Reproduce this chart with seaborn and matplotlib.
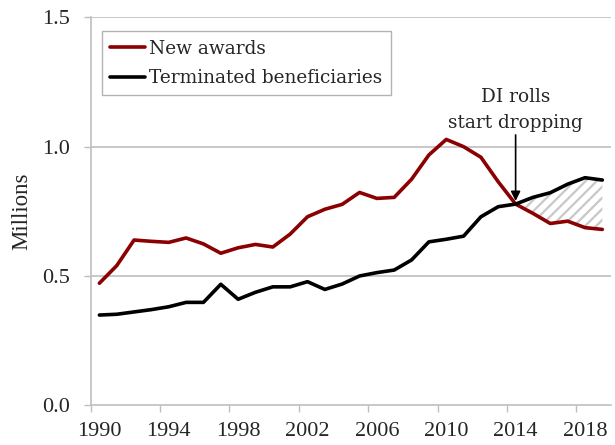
import numpy as np
import pandas as pd
import seaborn as sns
import matplotlib
matplotlib.use("Agg")
import matplotlib.pyplot as plt
from matplotlib.lines import Line2D

years = list(range(1990, 2020))
new_awards = [0.472, 0.540, 0.639, 0.634, 0.630, 0.647, 0.624, 0.588, 0.609, 0.622,
              0.612, 0.662, 0.729, 0.758, 0.777, 0.823, 0.800, 0.804, 0.874, 0.968,
              1.028, 1.000, 0.959, 0.864, 0.778, 0.742, 0.703, 0.712, 0.687, 0.680]
terminated = [0.349, 0.352, 0.361, 0.370, 0.381, 0.398, 0.398, 0.468, 0.410, 0.437,
              0.458, 0.458, 0.478, 0.448, 0.469, 0.500, 0.513, 0.523, 0.562, 0.632,
              0.642, 0.654, 0.729, 0.768, 0.778, 0.804, 0.822, 0.855, 0.880, 0.871]
series_names = ["New awards", "Terminated beneficiaries"]
tick_years = [1990, 1994, 1998, 2002, 2006, 2010, 2014, 2018]
y_ticks = [0.0, 0.5, 1.0, 1.5]
annot_year = 2014
annot_text = "DI rolls\nstart dropping"

sns.set_theme(style="white")
plt.rcParams['font.family'] = ['Liberation Serif', 'DejaVu Serif']
plt.rcParams['hatch.linewidth'] = 1.6
plt.rcParams['hatch.color'] = '#c8c8c8'

df = pd.DataFrame({
    "year": years * 2,
    "value": new_awards + terminated,
    "series": [series_names[0]] * len(years) + [series_names[1]] * len(years),
})

fig = plt.figure(figsize=(6.15, 4.45), dpi=100)
ax = fig.add_axes([0.1475, 0.0892, 0.9935 - 0.1475, 0.961 - 0.0892])

grid_c = '#bfbfbf'
for v in y_ticks[1:]:
    ax.axhline(v, color=grid_c, lw=1.2, zorder=0)

# hatched gap region
ys = np.array(years)
i0 = years.index(annot_year)
ax.fill_between(ys[i0:], np.array(new_awards)[i0:], np.array(terminated)[i0:],
                facecolor='none', edgecolor='#c8c8c8', hatch='///', linewidth=0, zorder=1)

palette = {series_names[0]: '#8B0000', series_names[1]: '#000000'}
sns.lineplot(data=df, x="year", y="value", hue="series", palette=palette,
             linewidth=2.6, ax=ax, legend=False, zorder=3)

ax.set_xlim(years[0] - 0.5, years[-1] + 0.5)
ax.set_ylim(0, 1.5)

# category boundaries as tick marks, labels at category centers
ax.set_xticks([t - 0.5 for t in tick_years])
ax.set_xticklabels([''] * len(tick_years))
ax.set_xticks(tick_years, minor=True)
ax.set_xticklabels([str(t) for t in tick_years], minor=True, fontsize=16)
ax.tick_params(axis='x', which='major', length=5, width=1, color=grid_c, direction='out', bottom=True)
ax.tick_params(axis='x', which='minor', length=0, pad=12, bottom=True)

ax.set_yticks(y_ticks)
ax.set_yticklabels([f"{v:.1f}" for v in y_ticks], fontsize=16)
ax.tick_params(axis='y', length=5, width=1, color=grid_c, direction='out', pad=10, left=True)

ax.set_xlabel('')
ax.set_ylabel('Millions', fontsize=16.5, labelpad=7)

for s in ['top', 'right']:
    ax.spines[s].set_visible(False)
for s in ['left', 'bottom']:
    ax.spines[s].set_color(grid_c)
    ax.spines[s].set_linewidth(1.2)

handles = [Line2D([0], [0], color=palette[n], lw=2.6) for n in series_names]
leg = ax.legend(handles, series_names, loc='upper left', bbox_to_anchor=(0.022, 0.964),
                prop={'family': ['DejaVu Serif'], 'size': 13.3}, frameon=True, fancybox=False,
                handlelength=1.85, handletextpad=0.25, borderpad=0.45, labelspacing=0.62,
                borderaxespad=0)
leg.get_frame().set_edgecolor('#a0a0a0')
leg.get_frame().set_linewidth(1.0)

idx = years.index(annot_year)
ax.annotate(annot_text, xy=(annot_year, terminated[idx] + 0.012),
            xytext=(annot_year, 1.058), ha='center', va='bottom',
            family=['DejaVu Serif'], fontsize=13.3, linespacing=1.55,
            arrowprops=dict(arrowstyle='-|>', color='black', lw=1.2, mutation_scale=14,
                            shrinkA=0, shrinkB=0), zorder=5)

fig.savefig('out.png', dpi=100)
